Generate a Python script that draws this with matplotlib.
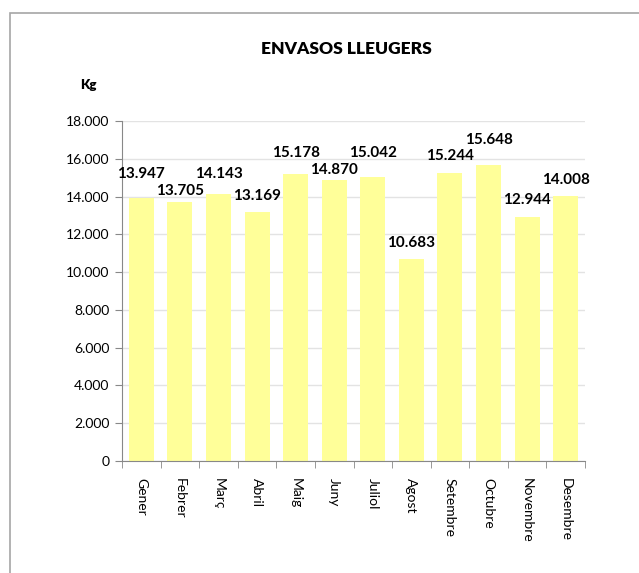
import matplotlib.pyplot as plt
from matplotlib.patches import Rectangle
from matplotlib.ticker import FuncFormatter, FixedLocator
import numpy as np

# Dades
mesos = ["Gener", "Febrer", "Març", "Abril", "Maig", "Juny",
         "Juliol", "Agost", "Setembre", "Octubre", "Novembre", "Desembre"]
kg = [13947, 13705, 14143, 13169, 15178, 14870,
      15042, 10683, 15244, 15648, 12944, 14008]

# desplaçament vertical de cada etiqueta (punts) sobre la barra
desp_etiqueta = [17, 8, 14, 12, 15, 7, 17, 12, 12, 18, 12, 12]

plt.rcParams['font.family'] = ['Lato', 'DejaVu Sans']

fig = plt.figure(figsize=(6.39, 5.73), dpi=100)
W, H = 639, 573

# marc del gràfic
fig.patches.append(Rectangle((10 / W, -0.05), 1.1, 1.05 - 13 / H, transform=fig.transFigure,
                             fill=False, edgecolor='#A6A6A6', linewidth=1.2))

ax = fig.add_axes([122 / W, 112 / H, (585 - 122) / W, (461 - 121) / H])
x = np.arange(len(mesos))
ax.bar(x, kg, width=0.65, color='#FFFF99', zorder=2)

for xi, v, d in zip(x, kg, desp_etiqueta):
    ax.annotate(f"{v:,}".replace(",", "."), (xi, v), xytext=(0, d),
                textcoords='offset points', ha='center', va='center',
                fontsize=11, fontweight='bold')

ax.set_xlim(-0.5, len(mesos) - 0.5)
ax.set_ylim(0, 18000)
ax.set_yticks(np.arange(0, 18001, 2000))
ax.yaxis.set_major_formatter(FuncFormatter(lambda v, p: f"{int(v):,}".replace(",", ".")))
ax.set_xticks(x)
ax.set_xticklabels(mesos, rotation=270, fontsize=10, ha='center', va='top')
ax.xaxis.set_minor_locator(FixedLocator(np.arange(-0.5, len(mesos), 1)))
ax.tick_params(axis='x', which='major', length=0, pad=12)
ax.tick_params(axis='x', which='minor', length=5, color='#888888')
ax.tick_params(axis='y', length=5, color='#888888', labelsize=10, pad=4)

ax.grid(axis='y', color='#E3E3E3', linewidth=1, zorder=0)
for s in ['top', 'right']:
    ax.spines[s].set_visible(False)
ax.spines['left'].set_color('#888888')
ax.spines['bottom'].set_color('#888888')

fig.text(346 / W, 1 - 49 / H, "ENVASOS LLEUGERS", ha='center', va='center',
         fontsize=12.5, fontweight='heavy')
fig.text(88 / W, 1 - 85 / H, "Kg", ha='center', va='center',
         fontsize=9.5, fontweight='heavy')

fig.savefig("out.png", dpi=100)
